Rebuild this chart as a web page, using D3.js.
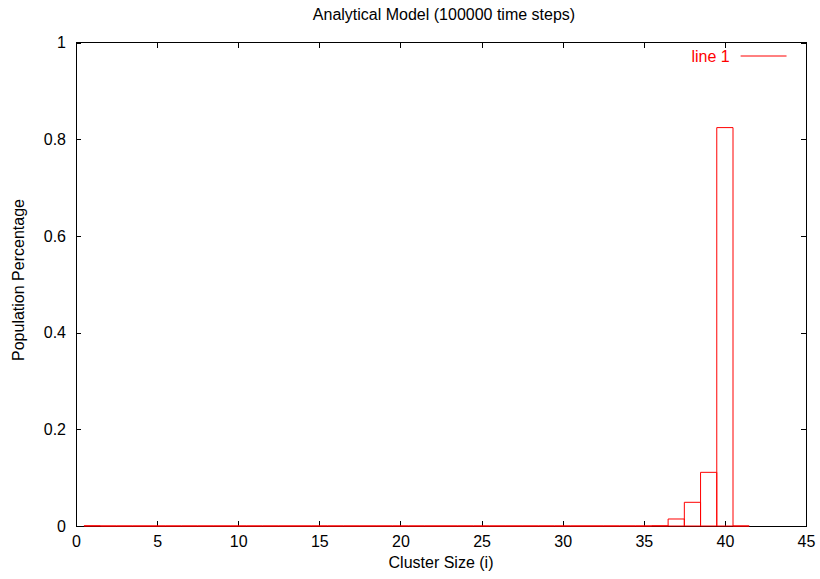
<!DOCTYPE html>
<html lang="en">
<head>
<meta charset="UTF-8">
<title>Analytical Model</title>
<script src="https://cdnjs.cloudflare.com/ajax/libs/d3/7.8.5/d3.min.js"></script>
<style>
  body { margin:0; background:#fff; }
  svg text { font-family: "Liberation Sans", Arial, sans-serif; }
</style>
</head>
<body>
<div id="chart"></div>
<script>
  // cluster sizes 1..41 and population fraction
  var clusterSizes = d3.range(1, 42)
  var population = [
    0.0005, 0, 0, 0, 0, 0, 0, 0, 0, 0,
    0, 0, 0, 0, 0, 0, 0, 0, 0, 0,
    0, 0, 0, 0, 0, 0, 0, 0, 0, 0,
    0, 0, 0, 0, 0, 0.0005, 0.0145, 0.049, 0.111, 0.824,
    0
  ]
  var xTicks = [0, 5, 10, 15, 20, 25, 30, 35, 40, 45]
  var yTicks = [0, 0.2, 0.4, 0.6, 0.8, 1]

  var width = 820, height = 579
  var margin = { top:42.5, right:14, bottom:53, left:76 }
  var plotW = width - margin.left - margin.right
  var plotH = height - margin.top - margin.bottom
  var fontSize = 16

  var svg = d3.select("#chart").append("svg")
              .attr("width", width)
              .attr("height", height)

  var x = d3.scaleLinear().domain([0, 45]).range([0, plotW])
  var y = d3.scaleLinear().domain([0, 1]).range([plotH, 0])

  var g = svg.append("g")
             .attr("transform", `translate(${margin.left},${margin.top})`)

  // frame first, bars go on top of it
  g.append("rect")
    .attr("width", plotW).attr("height", plotH)
    .attr("fill", "none").attr("stroke", "#000").attr("stroke-width", 1)
    .attr("shape-rendering", "crispEdges")

  // ticks: gnuplot style, inward, mirrored on top/right
  var tickLen = 5
  g.append("g").attr("transform", `translate(0,${plotH})`)
    .call(d3.axisBottom(x).tickValues(xTicks).tickFormat(d3.format("d"))
          .tickSizeInner(-tickLen).tickSizeOuter(0).tickPadding(10))
  g.append("g")
    .call(d3.axisTop(x).tickValues(xTicks).tickFormat("")
          .tickSizeInner(-tickLen).tickSizeOuter(0))
  g.append("g")
    .call(d3.axisLeft(y).tickValues(yTicks).tickFormat(d => d == 0 || d == 1 ? d : d3.format(".1f")(d))
          .tickSizeInner(-tickLen).tickSizeOuter(0).tickPadding(10))
  g.append("g").attr("transform", `translate(${plotW},0)`)
    .call(d3.axisRight(y).tickValues(yTicks).tickFormat("")
          .tickSizeInner(-tickLen).tickSizeOuter(0))

  g.selectAll(".domain").remove()
  g.selectAll(".tick line").attr("stroke", "#000").attr("shape-rendering", "crispEdges")
  g.selectAll(".tick text").attr("font-size", fontSize).attr("fill", "#000")

  // boxes as outlines (paths so that zero-height boxes still show on the baseline)
  g.selectAll("path.bar")
    .data(clusterSizes)
    .enter().append("path")
    .attr("class", "bar")
    .attr("d", (d, i) => {
      var x0 = x(d - 0.5), x1 = x(d + 0.5), y0 = y(0), y1 = y(population[i])
      return `M${x0},${y0}V${y1}H${x1}V${y0}Z`
    })
    .attr("fill", "none")
    .attr("stroke", "#ff0000")
    .attr("stroke-width", 1)

  // legend
  g.append("text")
    .attr("x", x(40.3)).attr("y", 19.5)
    .attr("text-anchor", "end")
    .attr("font-size", fontSize)
    .attr("fill", "#ff0000")
    .text("line 1")
  g.append("line")
    .attr("x1", x(40.97)).attr("x2", x(43.8))
    .attr("y1", 13.5).attr("y2", 13.5)
    .attr("stroke", "#ff0000")

  // titles
  svg.append("text")
    .attr("x", 444).attr("y", 20)
    .attr("text-anchor", "middle").attr("font-size", fontSize)
    .text("Analytical Model (100000 time steps)")
  svg.append("text")
    .attr("x", margin.left + plotW / 2).attr("y", 568)
    .attr("text-anchor", "middle").attr("font-size", fontSize)
    .text("Cluster Size (i)")
  svg.append("text")
    .attr("transform", `translate(24,280) rotate(-90)`)
    .attr("text-anchor", "middle").attr("font-size", fontSize)
    .text("Population Percentage")
</script>
</body>
</html>
